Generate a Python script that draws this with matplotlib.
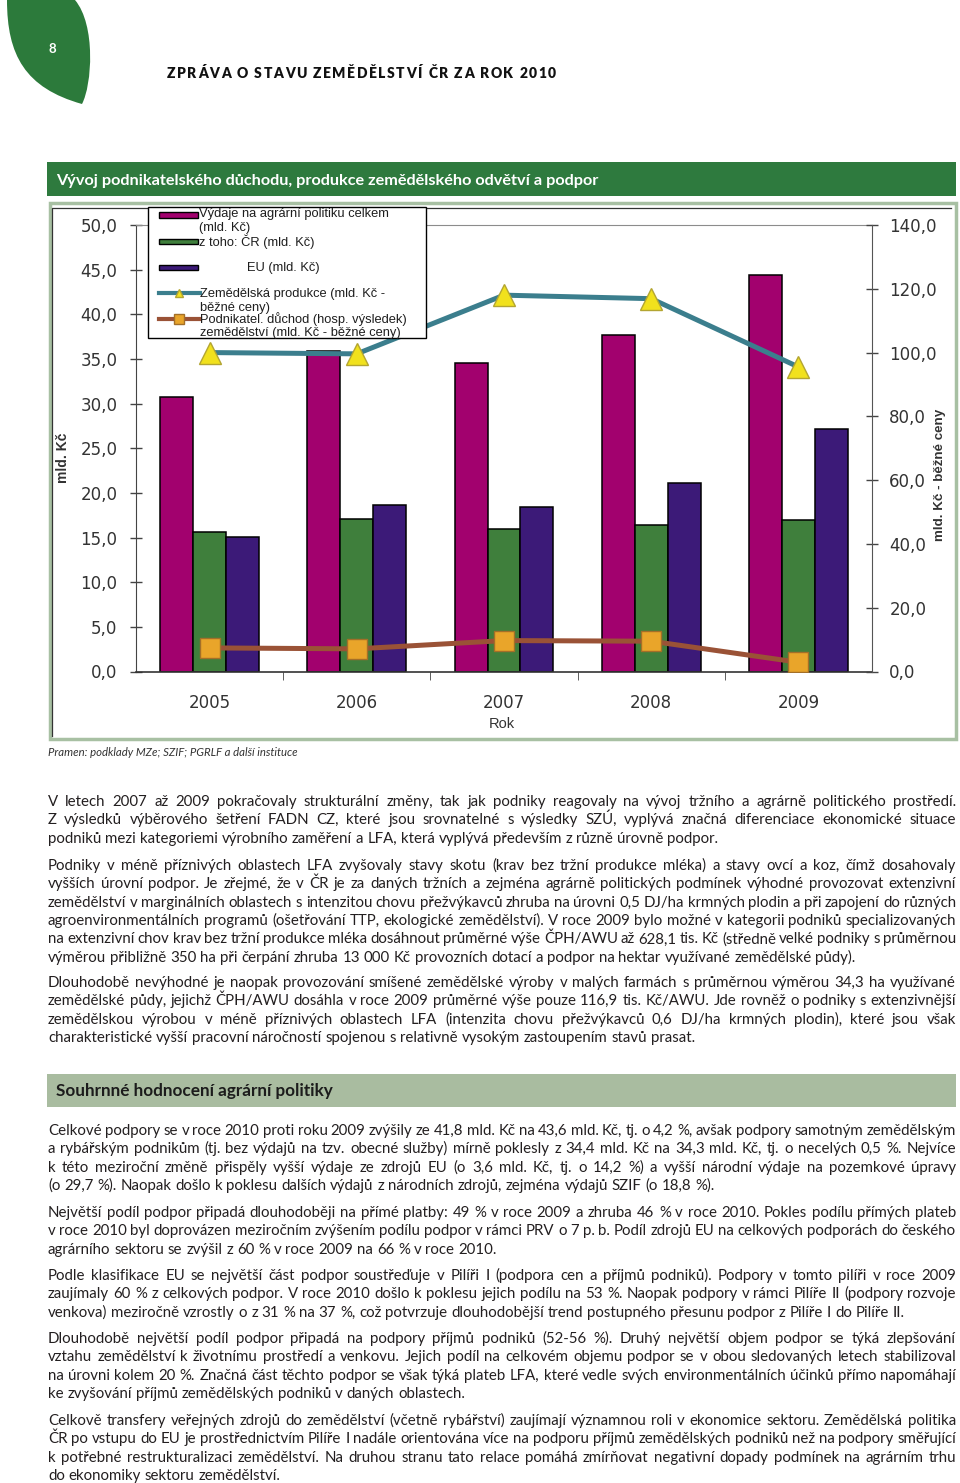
import matplotlib
matplotlib.use("Agg")
import matplotlib.pyplot as plt
from matplotlib.font_manager import FontProperties
from matplotlib.lines import Line2D
from matplotlib.patches import PathPatch, Rectangle
from matplotlib.path import Path
from matplotlib.ticker import FixedLocator, FuncFormatter

W, H = 960, 1483

# chart values (mld. Kč)
years = ["2005", "2006", "2007", "2008", "2009"]
vydaje_celkem = [30.7, 35.9, 34.5, 37.7, 44.4]
vydaje_cr = [15.6, 17.1, 16.0, 16.4, 17.0]
vydaje_eu = [15.1, 18.7, 18.4, 21.1, 27.2]
produkce = [100.0, 99.6, 118.0, 116.9, 95.5]   # right axis, běžné ceny
duchod = [7.4, 7.1, 9.7, 9.5, 2.9]             # right axis, běžné ceny

c_mag, c_grn, c_pur = "#a2016e", "#3f7f3c", "#3c1a78"
c_teal, c_brown = "#3b7e8d", "#9a5236"

header = "ZPRÁVA O STAVU ZEMĚDĚLSTVÍ ČR ZA ROK 2010"
chart_title = "Vývoj podnikatelského důchodu, produkce zemědělského odvětví a podpor"
section_title = "Souhrnné hodnocení agrární politiky"
source = "Pramen: podklady MZe; SZIF; PGRLF a další instituce"

paragraphs = [
    ["V letech 2007 až 2009 pokračovaly strukturální změny, tak jak podniky reagovaly na vývoj tržního a agrárně politického prostředí.",
     "Z výsledků výběrového šetření FADN CZ, které jsou srovnatelné s výsledky SZÚ, vyplývá značná diferenciace ekonomické situace",
     "podniků mezi kategoriemi výrobního zaměření a LFA, která vyplývá především z různě úrovně podpor."],
    ["Podniky v méně příznivých oblastech LFA zvyšovaly stavy skotu (krav bez tržní produkce mléka) a stavy ovcí a koz, čímž dosahovaly",
     "vyšších úrovní podpor. Je zřejmé, že v ČR je za daných tržních a zejména agrárně politických podmínek výhodné provozovat extenzivní",
     "zemědělství v marginálních oblastech s intenzitou chovu přežvýkavců zhruba na úrovni 0,5 DJ/ha krmných plodin a při zapojení do různých",
     "agroenvironmentálních programů (ošetřování TTP, ekologické zemědělství). V roce 2009 bylo možné v kategorii podniků specializovaných",
     "na extenzivní chov krav bez tržní produkce mléka dosáhnout průměrné výše ČPH/AWU až 628,1 tis. Kč (středně velké podniky s průměrnou",
     "výměrou přibližně 350 ha při čerpání zhruba 13 000 Kč provozních dotací a podpor na hektar využívané zemědělské půdy)."],
    ["Dlouhodobě nevýhodné je naopak provozování smíšené zemědělské výroby v malých farmách s průměrnou výměrou 34,3 ha využívané",
     "zemědělské půdy, jejichž ČPH/AWU dosáhla v roce 2009 průměrné výše pouze 116,9 tis. Kč/AWU. Jde rovněž o podniky s extenzivnější",
     "zemědělskou výrobou v méně příznivých oblastech LFA (intenzita chovu přežvýkavců 0,6 DJ/ha krmných plodin), které jsou však",
     "charakteristické vyšší pracovní náročností spojenou s relativně vysokým zastoupením stavů prasat."],
    ["Celkové podpory se v roce 2010 proti roku 2009 zvýšily ze 41,8 mld. Kč na 43,6 mld. Kč, tj. o 4,2 %, avšak podpory samotným zemědělským",
     "a rybářským podnikům (tj. bez výdajů na tzv. obecné služby) mírně poklesly z 34,4 mld. Kč na 34,3 mld. Kč, tj. o necelých 0,5 %. Nejvíce",
     "k této meziroční změně přispěly vyšší výdaje ze zdrojů EU (o 3,6 mld. Kč, tj. o 14,2 %) a vyšší národní výdaje na pozemkové úpravy",
     "(o 29,7 %). Naopak došlo k poklesu dalších výdajů z národních zdrojů, zejména výdajů SZIF (o 18,8 %)."],
    ["Největší podíl podpor připadá dlouhodoběji na přímé platby: 49 % v roce 2009 a zhruba 46 % v roce 2010. Pokles podílu přímých plateb",
     "v roce 2010 byl doprovázen meziročním zvýšením podílu podpor v rámci PRV o 7 p. b. Podíl zdrojů EU na celkových podporách do českého",
     "agrárního sektoru se zvýšil z 60 % v roce 2009 na 66 % v roce 2010."],
    ["Podle klasifikace EU se největší část podpor soustřeďuje v Pilíři I (podpora cen a příjmů podniků). Podpory v tomto pilíři v roce 2009",
     "zaujímaly 60 % z celkových podpor. V roce 2010 došlo k poklesu jejich podílu na 53 %. Naopak podpory v rámci Pilíře II (podpory rozvoje",
     "venkova) meziročně vzrostly o z 31 % na 37 %, což potvrzuje dlouhodobější trend postupného přesunu podpor z Pilíře I do Pilíře II."],
    ["Dlouhodobě největší podíl podpor připadá na podpory příjmů podniků (52-56 %). Druhý největší objem podpor se týká zlepšování",
     "vztahu zemědělství k životnímu prostředí a venkovu. Jejich podíl na celkovém objemu podpor se v obou sledovaných letech stabilizoval",
     "na úrovni kolem 20 %. Značná část těchto podpor se však týká plateb LFA, které vedle svých environmentálních účinků přímo napomáhají",
     "ke zvyšování příjmů zemědělských podniků v daných oblastech."],
    ["Celkově transfery veřejných zdrojů do zemědělství (včetně rybářství) zaujímají významnou roli v ekonomice sektoru. Zemědělská politika",
     "ČR po vstupu do EU je prostřednictvím Pilíře I nadále orientována více na podporu příjmů zemědělských podniků než na podpory směřující",
     "k potřebné restrukturalizaci zemědělství. Na druhou stranu tato relace pomáhá zmírňovat negativní dopady podmínek na agrárním trhu",
     "do ekonomiky sektoru zemědělství."],
]
para_base = [806, 870, 987, 1135, 1217, 1280, 1343, 1425]
para_end = [722, 845, 710, 727, 493, 915, 477, 265]
LINE = 18.35
X0, X1 = 48, 956

SANS = ["Lato", "DejaVu Sans"]
ARIAL = ["Liberation Sans", "DejaVu Sans"]


def fx(x):
    return x / W


def fy(y):
    return 1 - y / H


fig = plt.figure(figsize=(W / 100, H / 100), dpi=100)
fig.patch.set_facecolor("white")
renderer = fig.canvas.get_renderer()


def text_w(s, prop):
    return renderer.get_text_width_height_descent(s, prop, ismath=False)[0]


def fit_size(s, prop_kw, width, ref=10.0):
    p = FontProperties(size=ref, **prop_kw)
    return ref * width / text_w(s, p)


# leaf with page number
leaf = Path(
    [(7, 0), (7, 55), (25, 88), (82, 104), (92, 85), (96, 25), (75, 0), (7, 0)],
    [Path.MOVETO, Path.CURVE4, Path.CURVE4, Path.CURVE4,
     Path.CURVE4, Path.CURVE4, Path.CURVE4, Path.CLOSEPOLY],
)
leaf = Path([(fx(x), fy(y)) for x, y in leaf.vertices], leaf.codes)
fig.add_artist(PathPatch(leaf, transform=fig.transFigure, fc="#2c7a3b", ec="none"))
fig.text(fx(52), fy(49), "8", color="white", fontsize=9.5, fontweight="bold",
         family=SANS, ha="center", va="center")

# running header with letter spacing
hp = FontProperties(family=SANS, weight="heavy", size=10)
sp = text_w("A A", hp) - text_w("AA", hp)
cw = [sp if ch == " " else text_w(ch, hp) for ch in header]
track = (556 - 167 - sum(cw)) / (len(header) - 1)
x = 167
for ch, w in zip(header, cw):
    if ch != " ":
        fig.text(fx(x), fy(77.5), ch, fontproperties=hp, color="#111111", va="baseline")
    x += w + track

# green chart title bar
fig.add_artist(Rectangle((fx(47), fy(195.5)), (956 - 47) / W, 33.5 / H,
                         transform=fig.transFigure, fc="#2e7a3e", ec="none"))
kw = dict(family=SANS, weight="bold")
fig.text(fx(56), fy(185), chart_title, color="white", va="baseline",
         fontproperties=FontProperties(size=fit_size(chart_title, kw, 548), **kw))

# chart frame
fig.add_artist(Rectangle((fx(49.5), fy(738.5)), (956 - 49.5) / W, (738.5 - 203) / H,
                         transform=fig.transFigure, fc="white", ec="#a8c0a3", lw=2.5, zorder=-1))
fig.add_artist(Line2D([fx(52), fx(52), fx(951)], [fy(736), fy(207.5), fy(207.5)],
                      color="#333333", lw=0.9, zorder=0.5))

# ---- chart ----
ax = fig.add_axes([fx(136), fy(671.5), (872 - 136) / W, (671.5 - 225) / H])
ax.set_zorder(1)
bw = 0.224
xs = range(len(years))
ax.bar([i - bw for i in xs], vydaje_celkem, bw, color=c_mag, edgecolor="black", lw=1.1)
ax.bar(list(xs), vydaje_cr, bw, color=c_grn, edgecolor="black", lw=1.1)
ax.bar([i + bw for i in xs], vydaje_eu, bw, color=c_pur, edgecolor="black", lw=1.1)
ax.set_xlim(-0.5, len(years) - 0.5)
ax.set_ylim(0, 50)

fmt = FuncFormatter(lambda v, p: f"{v:.1f}".replace(".", ","))
ax.yaxis.set_major_locator(FixedLocator([5 * k for k in range(11)]))
ax.yaxis.set_major_formatter(fmt)
ax.set_xticks(list(xs))
ax.set_xticklabels(years, family=ARIAL[1])
ax.set_xticks([i + 0.5 for i in range(len(years) - 1)], minor=True)
ax.tick_params(axis="x", which="major", length=0, pad=16, labelsize=12, labelcolor="#333333")
ax.tick_params(axis="x", which="minor", length=6, direction="out", color="#444444")
ax.tick_params(axis="y", direction="inout", length=9, width=1, color="#444444",
               pad=9, labelsize=12, labelcolor="#333333")
ax.spines["right"].set_visible(False)
ax.spines["top"].set_color("#8c8c8c")
ax.spines["left"].set_color("#444444")
ax.spines["bottom"].set_color("#333333")
ax.spines["bottom"].set_linewidth(1.2)

ax2 = ax.twinx()
ax2.plot(list(xs), produkce, color=c_teal, lw=3.6, marker="^", ms=16.5,
         mfc="#f1e11d", mec="#b3a532", mew=1, zorder=3)
ax2.plot(list(xs), duchod, color=c_brown, lw=3.6, marker="s", ms=14.5,
         mfc="#e9a52a", mec="#a36f28", mew=1, zorder=3)
ax2.set_ylim(0, 140)
ax2.yaxis.set_major_locator(FixedLocator([20 * k for k in range(8)]))
ax2.yaxis.set_major_formatter(fmt)
ax2.tick_params(axis="y", direction="inout", length=9, width=1, color="#444444",
                pad=8, labelsize=12, labelcolor="#333333")
for s in ("left", "top", "bottom"):
    ax2.spines[s].set_visible(False)
ax2.spines["right"].set_color("#555555")

fig.text(fx(502), fy(724), "Rok", family=ARIAL, fontsize=10.5, color="#333333",
         ha="center", va="center")
fig.text(fx(63), fy(458), "mld. Kč", family=ARIAL, fontsize=10, fontweight="bold",
         color="#333333", rotation=90, ha="center", va="center")
fig.text(fx(940), fy(475), "mld. Kč - běžné ceny", family=ARIAL, fontsize=9.6,
         fontweight="bold", color="#333333", rotation=90, ha="center", va="center")

# legend box drawn by hand, as in the original Excel chart
fig.add_artist(Rectangle((fx(148), fy(338)), 278 / W, 131 / H, transform=fig.transFigure,
                         fc="white", ec="black", lw=1, zorder=5))
for col, y0, y1 in ((c_mag, 212.5, 217.5), (c_grn, 239, 243.5), (c_pur, 264.5, 270)):
    fig.add_artist(Rectangle((fx(159), fy(y1)), 39 / W, (y1 - y0) / H,
                             transform=fig.transFigure, fc=col, ec="black", lw=1, zorder=6))
fig.add_artist(Line2D([fx(159), fx(200)], [fy(293), fy(293)], color=c_teal, lw=3, zorder=6))
fig.add_artist(Line2D([fx(179)], [fy(293)], marker="^", ms=6, mfc="#f1e11d",
                      mec="#b3a532", lw=0, zorder=7))
fig.add_artist(Line2D([fx(159), fx(200)], [fy(318.5), fy(318.5)], color=c_brown, lw=3, zorder=6))
fig.add_artist(Line2D([fx(179)], [fy(318.5)], marker="s", ms=7.5, mfc="#e9a52a",
                      mec="#a36f28", lw=0, zorder=7))
legend_rows = [
    ("Výdaje na agrární politiku celkem", 199, 214.5),
    ("(mld. Kč)", 199, 228.5),
    ("z toho: ČR (mld. Kč)", 199, 241.5),
    ("EU (mld. Kč)", 247, 267.5),
    ("Zemědělská produkce (mld. Kč -", 200, 294),
    ("běžné ceny)", 200, 307.5),
    ("Podnikatel. důchod (hosp. výsledek)", 200, 319),
    ("zemědělství (mld. Kč - běžné ceny)", 200, 333),
]
for s, x, y in legend_rows:
    fig.text(fx(x), fy(y), s, family=ARIAL, fontsize=9.3, color="#1e1e1e",
             ha="left", va="center", zorder=8)

# source note
kw = dict(family=SANS, style="italic")
fig.text(fx(48), fy(756), source, color="#333333", va="baseline",
         fontproperties=FontProperties(size=fit_size(source, kw, 250), **kw))

# section bar
fig.add_artist(Rectangle((fx(47), fy(1107)), (956 - 47) / W, 33.5 / H,
                         transform=fig.transFigure, fc="#a9bca0", ec="none"))
kw = dict(family=SANS, weight="bold")
fig.text(fx(56), fy(1096), section_title, color="#1c1c1c", va="baseline",
         fontproperties=FontProperties(size=fit_size(section_title, kw, 277), **kw))

# body text, justified word by word
ref = FontProperties(family=SANS, size=10)
nat = sum(text_w(p[-1], ref) for p in paragraphs)
tgt = sum(e - X0 for e in para_end)
bp = FontProperties(family=SANS, size=10 * tgt / nat)
space = text_w("a a", bp) - text_w("aa", bp)

for lines, base in zip(paragraphs, para_base):
    for k, line in enumerate(lines):
        words = line.split(" ")
        ws = [text_w(w, bp) for w in words]
        last = k == len(lines) - 1
        gap = space if last else (X1 - X0 - sum(ws)) / (len(words) - 1)
        x = X0
        y = base + k * LINE
        for w, wd in zip(words, ws):
            fig.text(fx(x), fy(y), w, fontproperties=bp, color="#231f20", va="baseline")
            x += wd + gap

fig.savefig("out.png", dpi=100, facecolor="white")
